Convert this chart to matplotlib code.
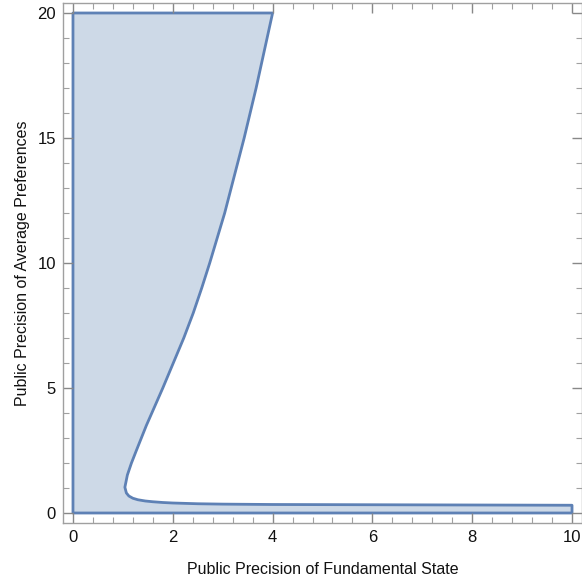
import matplotlib.pyplot as plt
from matplotlib.ticker import MultipleLocator

# --- Region boundary (x = fundamental, y = preferences) ---
# bottom edge / right edge, then lower branch from right to left
lower_x = [0.0, 10.0, 10.0, 8.0, 6.0, 5.0, 4.0, 3.0, 2.5, 2.0, 1.8, 1.6, 1.45, 1.3, 1.2, 1.12, 1.07, 1.04]
lower_y = [0.0, 0.0, 0.31, 0.32, 0.33, 0.335, 0.34, 0.355, 0.37, 0.40, 0.42, 0.45, 0.48, 0.53, 0.59, 0.68, 0.80, 1.03]
# upper branch from the nose up to the top edge, then back to the y axis
upper_x = [1.09, 1.17, 1.27, 1.37, 1.47, 1.58, 1.69, 1.80, 2.01, 2.22, 2.41, 2.58, 2.74,
           2.89, 3.04, 3.17, 3.30, 3.43, 3.55, 3.67, 3.78, 3.89, 4.0, 0.0]
upper_y = [1.52, 1.99, 2.5, 3.0, 3.5, 4.0, 4.5, 5.0, 6.0, 7.0, 8.0, 9.0, 10.0,
           11.0, 12.0, 13.0, 14.0, 15.0, 16.0, 17.0, 18.0, 19.0, 20.0, 20.0]

XLABEL = "Public Precision of Fundamental State"
YLABEL = "Public Precision of Average Preferences"

FILL = "#cdd9e7"
EDGE = "#5e81b5"
FRAME = "#a0a0a0"

plt.rcParams["font.family"] = ["Liberation Sans", "DejaVu Sans"]

fig = plt.figure(figsize=(5.82, 5.81), dpi=100)
W, H = 582, 581
ax = fig.add_axes([63 / W, (H - 523) / H, 519 / W, 520 / H])

xs = lower_x + upper_x
ys = lower_y + upper_y
ax.fill(xs, ys, facecolor=FILL, edgecolor=EDGE, linewidth=2.0, joinstyle="round")

ax.set_xlim(-0.2, 10.2)
ax.set_ylim(-0.4, 20.4)

ax.xaxis.set_major_locator(MultipleLocator(2))
ax.xaxis.set_minor_locator(MultipleLocator(0.4))
ax.yaxis.set_major_locator(MultipleLocator(5))
ax.yaxis.set_minor_locator(MultipleLocator(1))

for s in ax.spines.values():
    s.set_color(FRAME)
    s.set_linewidth(1.0)

ax.tick_params(which="both", direction="in", top=True, right=True,
               color=FRAME, labelsize=12, labelcolor="#111111")
ax.tick_params(which="major", length=7, width=1.0, pad=5, color="#888888")
ax.tick_params(which="minor", length=4, width=0.8)

ax.set_xlabel(XLABEL, fontsize=11.5, color="#111111", labelpad=12)
ax.set_ylabel(YLABEL, fontsize=11.5, color="#111111", labelpad=5)

fig.savefig("out.png", dpi=100)
